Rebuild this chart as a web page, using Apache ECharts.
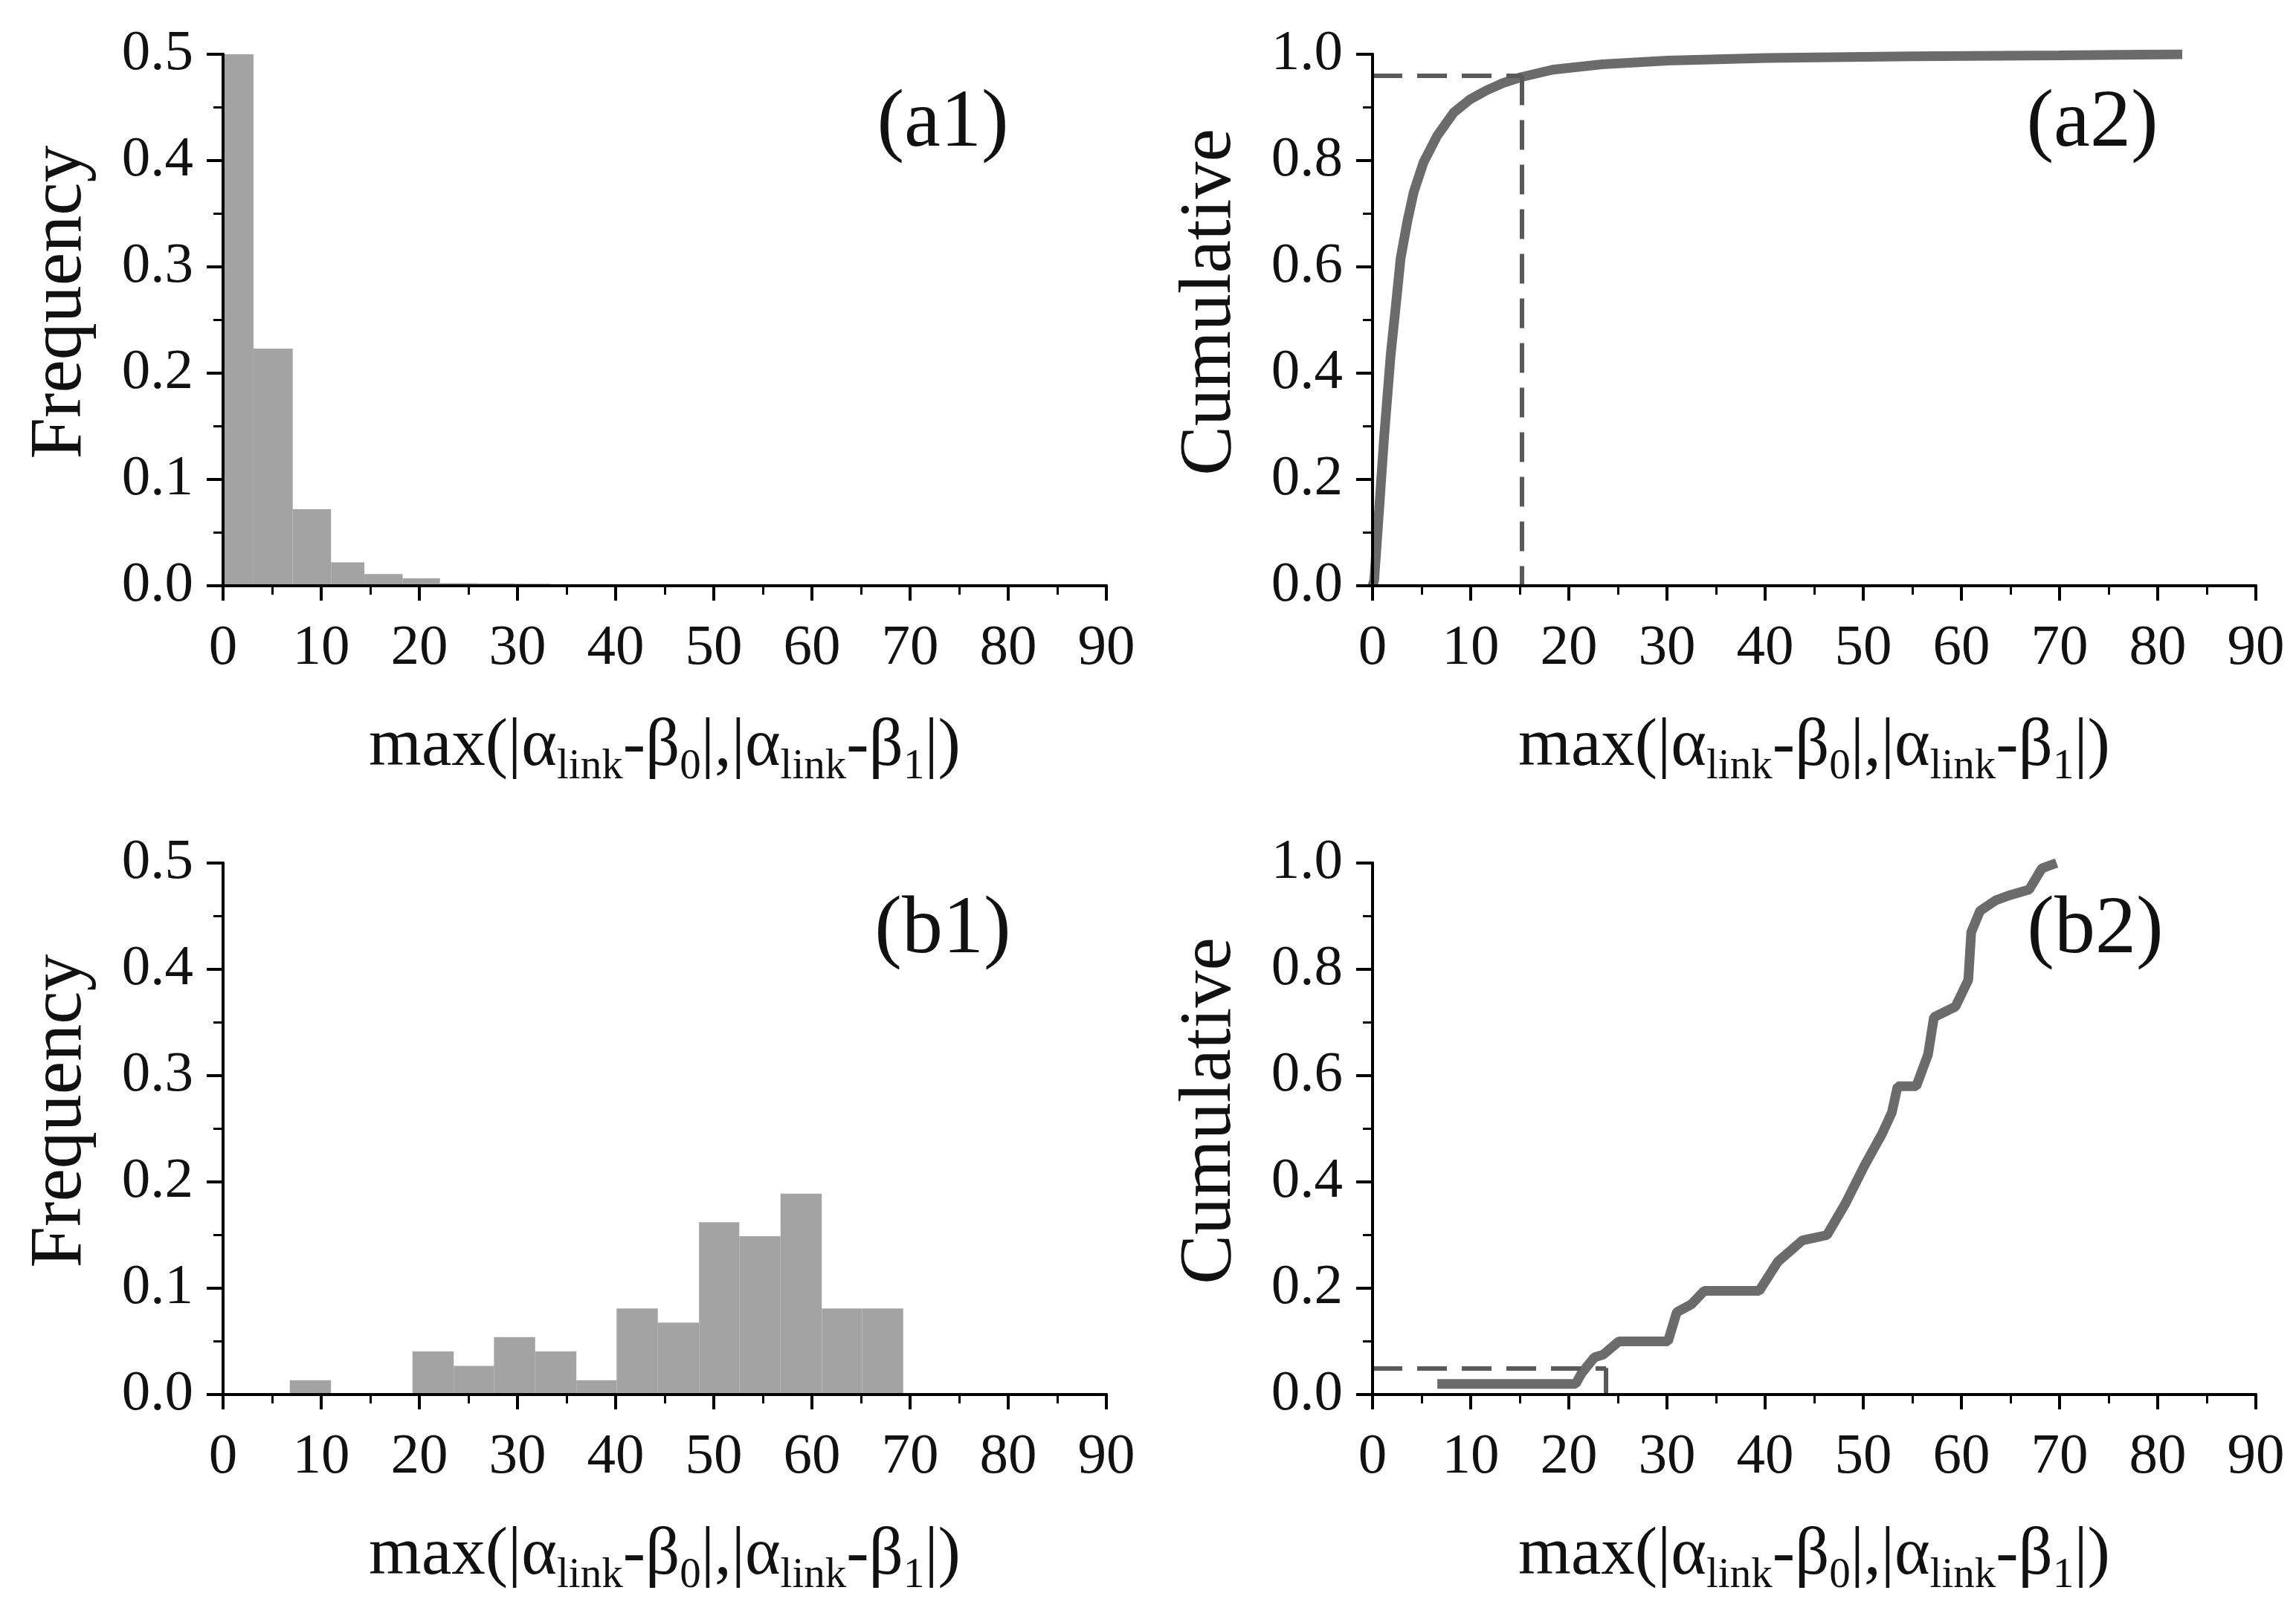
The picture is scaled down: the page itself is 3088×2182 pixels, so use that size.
<!DOCTYPE html>
<html>
<head>
<meta charset="utf-8">
<script src="https://cdn.jsdelivr.net/npm/echarts@6/dist/echarts.min.js"></script>
<style>
  html, body { margin: 0; padding: 0; background: #fff; }
  #main { width: 3088px; height: 2182px; }
</style>
</head>
<body>
<div id="main"></div>
<script>
// ---- data ----
// (a1) histogram: bin edges and frequency per bin
const a1Edges = [0, 3.1, 7.1, 11.0, 14.4, 18.3, 22.1, 25.9, 29.7, 33.4];
const a1Freq = [0.66, 0.223, 0.072, 0.022, 0.011, 0.007, 0.0025, 0.0022, 0.002];

// (a2) cumulative curve
const a2X = [0, 0.17, 0.67, 1.18, 1.85, 2.36, 2.86, 3.54, 4.2, 5.2, 6.57, 8.25, 9.93, 11.6, 13.3, 15.15, 18.35, 23.4, 30.1, 40.2, 55, 70, 82.5];
const a2Y = [0, 0.01, 0.143, 0.28, 0.435, 0.525, 0.616, 0.685, 0.741, 0.797, 0.846, 0.89, 0.915, 0.932, 0.946, 0.957, 0.971, 0.981, 0.988, 0.993, 0.996, 0.998, 1.0];
const a2Ref = [15.2, 0.96];

// (b1) histogram
const b1Edges = [6.8, 11.0, 15.1, 19.3, 23.5, 27.6, 31.8, 36.0, 40.1, 44.3, 48.5, 52.6, 56.8, 61.0, 65.1, 69.3];
const b1Freq = [0.0135, 0, 0, 0.0405, 0.027, 0.054, 0.0405, 0.0135, 0.081, 0.0676, 0.162, 0.149, 0.189, 0.081, 0.081];

// (b2) cumulative curve
const b2X = [6.6, 20.7, 21.3, 22.6, 23.5, 25.1, 30.1, 31.0, 32.5, 33.8, 39.4, 41.3, 43.8, 46.3, 48.2, 50.1, 51.9, 52.9, 53.5, 55.4, 56.6, 57.2, 59.4, 60.7, 61.0, 61.9, 63.5, 65.0, 66.9, 68.2, 69.7];
const b2Y = [0.02, 0.02, 0.04, 0.07, 0.075, 0.1, 0.1, 0.155, 0.17, 0.195, 0.195, 0.25, 0.29, 0.30, 0.36, 0.43, 0.49, 0.53, 0.58, 0.58, 0.64, 0.71, 0.73, 0.78, 0.87, 0.91, 0.93, 0.94, 0.95, 0.99, 1.0];
const b2Ref = [23.8, 0.05];

const panelLabels = ['(a1)', '(a2)', '(b1)', '(b2)'];
const yNames = ['Frequency', 'Cumulative', 'Frequency', 'Cumulative'];
const yMax = [0.5, 1.0, 0.5, 1.0];
const yStep = [0.1, 0.2, 0.1, 0.2];

const FONT = 'Liberation Serif';
const INK = '#111';

function histRows(edges, freq) {
  return freq.map((f, i) => [edges[i], edges[i + 1], f]);
}
function curveRows(xs, ys) {
  return xs.map((x, i) => [x, ys[i]]);
}

// grid layout (px)
const grids = [
  { left: 300, top: 73, width: 1188, height: 715 },
  { left: 1846, top: 73, width: 1188, height: 715 },
  { left: 300, top: 1161, width: 1188, height: 715 },
  { left: 1846, top: 1161, width: 1188, height: 715 }
];
const labelPos = [[1268, 167], [2814, 167], [1268, 1252], [2818, 1252]];

const xName = '{n|max(|α}{s|link}{n|-β}{s|0}{n||,|α}{s|link}{n|-β}{s|1}{n||)}';

const lineBlack = { color: '#000', width: 4 };

function xAxisFor(i) {
  return [{
    type: 'value', gridIndex: i, min: 0, max: 90, interval: 10, z: 10,
    axisLine: { lineStyle: lineBlack },
    axisTick: { length: 20, lineStyle: lineBlack },
    minorTick: { show: true, splitNumber: 2, length: 12, lineStyle: { color: '#000', width: 3 } },
    splitLine: { show: false },
    axisLabel: { fontFamily: FONT, fontSize: 77, color: INK, margin: 46 },
    name: xName, nameLocation: 'middle', nameGap: 162,
    nameTextStyle: {
      rich: {
        n: { fontFamily: FONT, fontSize: 91, color: INK },
        s: { fontFamily: FONT, fontSize: 57, color: INK, padding: [54, 0, 0, 0] }
      }
    }
  }, {
    type: 'value', gridIndex: i, min: 0, max: 90, position: 'top', z: 10,
    axisLine: { lineStyle: lineBlack }, axisTick: { show: false },
    axisLabel: { show: false }, splitLine: { show: false }
  }];
}
function yAxisFor(i) {
  return [{
    type: 'value', gridIndex: i, min: 0, max: yMax[i], interval: yStep[i], z: 10,
    axisLine: { lineStyle: lineBlack },
    axisTick: { length: 22, lineStyle: lineBlack },
    minorTick: { show: true, splitNumber: 2, length: 13, lineStyle: { color: '#000', width: 3 } },
    splitLine: { show: false },
    axisLabel: { fontFamily: FONT, fontSize: 77, color: INK, margin: 40, formatter: v => v.toFixed(1) },
    name: yNames[i], nameLocation: 'middle', nameGap: 168,
    nameTextStyle: { fontFamily: FONT, fontSize: 100, color: INK, padding: [0, 0, 0, 48] }
  }, {
    type: 'value', gridIndex: i, min: 0, max: yMax[i], position: 'right', z: 10,
    axisLine: { lineStyle: lineBlack }, axisTick: { show: false },
    axisLabel: { show: false }, splitLine: { show: false }
  }];
}

function histItem(params, api) {
  const p0 = api.coord([api.value(0), api.value(2)]);
  const p1 = api.coord([api.value(1), 0]);
  return {
    type: 'rect',
    shape: { x: p0[0], y: p0[1], width: p1[0] - p0[0], height: p1[1] - p0[1] },
    style: { fill: '#a3a3a3' }
  };
}

function refLines(ref) {
  return {
    symbol: 'none', silent: true,
    label: { show: false },
    lineStyle: { type: [40, 20], color: '#5a5a5a', width: 6 },
    data: [
      [{ coord: [0, ref[1]] }, { coord: [ref[0], ref[1]] }],
      [{ coord: [ref[0], ref[1]] }, { coord: [ref[0], 0] }]
    ]
  };
}

const xAxes = [], yAxes = [];
for (let i = 0; i < 4; i++) {
  xAxes.push(...xAxisFor(i));
  yAxes.push(...yAxisFor(i));
}

const option = {
  backgroundColor: '#fff',
  animation: false,
  grid: grids,
  xAxis: xAxes,
  yAxis: yAxes,
  series: [
    {
      type: 'custom', xAxisIndex: 0, yAxisIndex: 0, clip: true,
      renderItem: histItem, encode: { x: [0, 1], y: 2 },
      data: histRows(a1Edges, a1Freq)
    },
    {
      type: 'line', xAxisIndex: 2, yAxisIndex: 2, showSymbol: false, z: 3,
      lineStyle: { color: '#6b6b6b', width: 13 },
      data: curveRows(a2X, a2Y),
      markLine: refLines(a2Ref)
    },
    {
      type: 'custom', xAxisIndex: 4, yAxisIndex: 4, clip: true,
      renderItem: histItem, encode: { x: [0, 1], y: 2 },
      data: histRows(b1Edges, b1Freq)
    },
    {
      type: 'line', xAxisIndex: 6, yAxisIndex: 6, showSymbol: false, z: 3,
      lineStyle: { color: '#6b6b6b', width: 13 },
      data: curveRows(b2X, b2Y),
      markLine: refLines(b2Ref)
    }
  ],
  graphic: panelLabels.map((t, i) => ({
    type: 'text', x: labelPos[i][0], y: labelPos[i][1], z: 20,
    style: { text: t, fontFamily: FONT, fontSize: 110, fill: INK, align: 'center', verticalAlign: 'middle' }
  }))
};

const chart = echarts.init(document.getElementById('main'));
chart.setOption(option);
</script>
</body>
</html>
